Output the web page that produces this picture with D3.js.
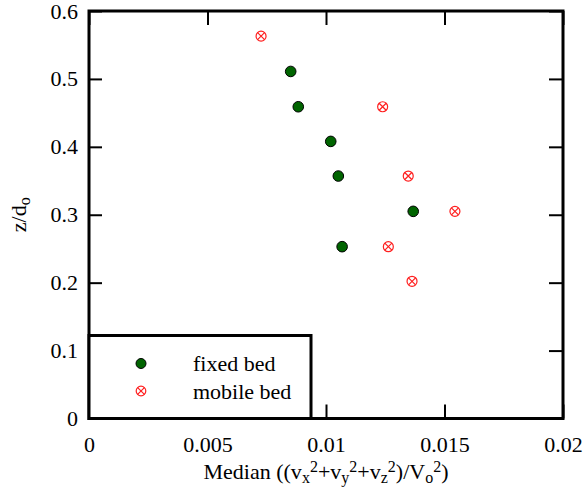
<!DOCTYPE html>
<html>
<head>
<meta charset="utf-8">
<script src="https://cdn.jsdelivr.net/npm/d3@7"></script>
<style>
  body { margin: 0; background: #fff; }
</style>
</head>
<body>
<svg id="chart" width="584" height="492"></svg>
<script>
// data
const fixedX = [0.00851, 0.00883, 0.0102, 0.01052, 0.01368, 0.01068];
const fixedZ = [0.511, 0.459, 0.408, 0.357, 0.305, 0.253];
const mobileX = [0.00726, 0.01239, 0.01347, 0.01544, 0.01263, 0.01363];
const mobileZ = [0.563, 0.459, 0.357, 0.305, 0.253, 0.202];
const xTicks = [0, 0.005, 0.01, 0.015, 0.02];
const yTicks = [0, 0.1, 0.2, 0.3, 0.4, 0.5, 0.6];
const legendLabels = ["fixed bed", "mobile bed"];

const FONT = "'Liberation Serif', Tinos, 'Noto Serif', 'Nimbus Roman', FreeSerif, 'DejaVu Serif', serif";

const svg = d3.select("#chart").style("font-family", FONT);
const margin = { left: 89, right: 21, top: 11, bottom: 73.5 };
const W = 584, H = 492;

const x = d3.scaleLinear().domain([0, 0.02]).range([margin.left, W - margin.right]);
const y = d3.scaleLinear().domain([0, 0.6]).range([H - margin.bottom, margin.top]);

const fmt = d => d === 0 ? "0" : String(+d.toFixed(3));

// axes, ticks pointing inward
svg.append("g")
  .attr("transform", `translate(0,${y(0)})`)
  .call(d3.axisBottom(x).tickValues(xTicks).tickFormat(fmt).tickSizeInner(-14).tickSizeOuter(0).tickPadding(18))
  .call(styleAxis);

svg.append("g")
  .attr("transform", `translate(0,${y(0.6)})`)
  .call(d3.axisTop(x).tickValues(xTicks).tickFormat("").tickSizeInner(-14).tickSizeOuter(0))
  .call(styleAxis);

svg.append("g")
  .attr("transform", `translate(${x(0)},0)`)
  .call(d3.axisLeft(y).tickValues(yTicks).tickFormat(fmt).tickSizeInner(-13).tickSizeOuter(0).tickPadding(11))
  .call(styleAxis);

svg.append("g")
  .attr("transform", `translate(${x(0.02)},0)`)
  .call(d3.axisRight(y).tickValues(yTicks).tickFormat("").tickSizeInner(-14).tickSizeOuter(0))
  .call(styleAxis);

function styleAxis(g) {
  g.attr("font-family", null).attr("font-size", 22);
  g.select(".domain").remove();
  g.selectAll(".tick line").attr("stroke", "#000").attr("stroke-width", 2);
  g.selectAll(".tick text").attr("fill", "#000");
}

// frame
svg.append("rect")
  .attr("x", x(0)).attr("y", y(0.6))
  .attr("width", x(0.02) - x(0)).attr("height", y(0) - y(0.6))
  .attr("fill", "none").attr("stroke", "#000").attr("stroke-width", 3);

// points
function drawCircleX(g, cx, cy, r) {
  g.append("circle").attr("cx", cx).attr("cy", cy).attr("r", r)
    .attr("fill", "none").attr("stroke", "#ff2020").attr("stroke-width", 1.2);
  const d = r * 0.7;
  g.append("path")
    .attr("d", `M${cx - d},${cy - d}L${cx + d},${cy + d}M${cx - d},${cy + d}L${cx + d},${cy - d}`)
    .attr("stroke", "#ff2020").attr("stroke-width", 1.2);
}

const mobile = mobileX.map((v, i) => ({ x: v, z: mobileZ[i] }));
const fixed = fixedX.map((v, i) => ({ x: v, z: fixedZ[i] }));

const gm = svg.append("g");
mobile.forEach(d => drawCircleX(gm, x(d.x), y(d.z), 5));

svg.append("g").selectAll("circle")
  .data(fixed)
  .join("circle")
  .attr("cx", d => x(d.x))
  .attr("cy", d => y(d.z))
  .attr("r", 5.3)
  .attr("fill", "#006400")
  .attr("stroke", "#000")
  .attr("stroke-width", 1);

// legend
const lg = svg.append("g");
lg.append("rect")
  .attr("x", x(0)).attr("y", 335.5)
  .attr("width", 311 - x(0)).attr("height", y(0) - 335.5)
  .attr("fill", "#fff").attr("stroke", "#000").attr("stroke-width", 3);
lg.append("circle").attr("cx", 141).attr("cy", 363.5).attr("r", 5)
  .attr("fill", "#006400").attr("stroke", "#000").attr("stroke-width", 1);
drawCircleX(lg, 141, 391, 4.8);
lg.selectAll("text")
  .data(legendLabels)
  .join("text")
  .attr("x", 193)
  .attr("y", (d, i) => 371 + i * 28)
  .attr("font-size", 22)
  .text(d => d);

// axis titles
const xt = svg.append("text")
  .attr("x", (x(0) + x(0.02)) / 2)
  .attr("y", 479)
  .attr("text-anchor", "middle")
  .attr("font-size", 22);
const parts = [["Median ((v", 0], ["x", 1], ["2", 2], ["+v", 0], ["y", 1], ["2", 2],
  ["+v", 0], ["z", 1], ["2", 2], [")/V", 0], ["o", 1], ["2", 2], [")", 0]];
const shift = [0, 4, -7];
let level = 0;
parts.forEach(([t, l]) => {
  const ts = xt.append("tspan").attr("dy", shift[l] - shift[level]).text(t);
  if (l) ts.attr("font-size", 16);
  level = l;
});

const yt = svg.append("text")
  .attr("transform", `translate(26,${(y(0) + y(0.6)) / 2}) rotate(-90)`)
  .attr("text-anchor", "middle")
  .attr("font-size", 22);
yt.append("tspan").text("z/d");
yt.append("tspan").attr("dy", 4).attr("font-size", 16).text("o");
</script>
</body>
</html>
